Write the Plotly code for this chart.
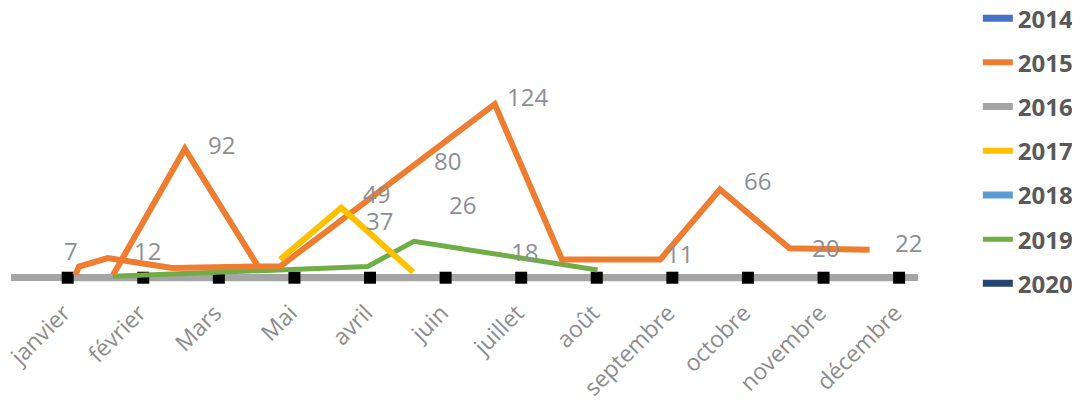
import plotly.graph_objects as go

# ---- data ----
months = ["janvier", "février", "Mars", "Mai", "avril", "juin", "juillet",
          "août", "septembre", "octobre", "novembre", "décembre"]
month_pos = list(range(len(months)))

years = ["2014", "2015", "2016", "2017", "2018", "2019", "2020"]
colors = {"2014": "#4472C4", "2015": "#ED7D31", "2016": "#A5A5A5", "2017": "#FFC000",
          "2018": "#5B9BD5", "2019": "#70AD47", "2020": "#264478"}

# 2015 (two drawn runs, separated by a gap)
x_2015 = [0.10, 0.15, 0.53, 1.38, 2.54, 2.81, 5.65, 6.54, 7.84, 8.63, 9.55, 10.61,
          None, 0.60, 1.55, 2.52]
y_2015 = [2, 8, 14, 7, 8, 8, 124, 13, 13, 63, 21, 20,
          None, 2, 92, 8]
# 2016 (flat at zero)
y_2016 = [0] * 12
# 2017
x_2017 = [2.81, 3.62, 4.57]
y_2017 = [13, 50, 4]
# 2019
x_2019 = [0.60, 3.97, 4.58, 7.01]
y_2019 = [1, 8, 26, 5.5]

# data labels
label_text = ["7", "12", "92", "49", "37", "80", "26", "124", "18", "11", "66", "20", "22"]
label_x = [0.04, 1.06, 2.04, 4.08, 4.12, 5.02, 5.22, 6.09, 6.05, 8.09, 9.13, 10.03, 11.12]
label_y = [19.8, 19.1, 95.5, 60.5, 41.2, 84, 52, 129.8, 18.4, 17.6, 69.8, 21.9, 25.5]

fig = go.Figure()

# markers on the baseline
fig.add_trace(go.Scatter(x=month_pos, y=y_2016, mode="lines+markers",
                         line=dict(color=colors["2016"], width=7),
                         marker=dict(symbol="square", size=12, color="black"),
                         name="2016", legendrank=3, legendgroup="2016", showlegend=False,
                         hoverinfo="skip"))
fig.add_trace(go.Scatter(x=[None], y=[None], mode="lines", name="2016",
                         line=dict(color=colors["2016"], width=7),
                         legendrank=3, legendgroup="2016"))
for yr, rank in [("2014", 1), ("2018", 5), ("2020", 7)]:
    fig.add_trace(go.Scatter(x=[None], y=[None], mode="lines", name=yr,
                             line=dict(color=colors[yr], width=7),
                             legendrank=rank, legendgroup=yr))
fig.add_trace(go.Scatter(x=x_2019, y=y_2019, mode="lines", name="2019",
                         line=dict(color=colors["2019"], width=5),
                         legendrank=6, legendgroup="2019"))
fig.add_trace(go.Scatter(x=x_2015, y=y_2015, mode="lines", name="2015",
                         line=dict(color=colors["2015"], width=6),
                         legendrank=2, legendgroup="2015", connectgaps=False))
fig.add_trace(go.Scatter(x=x_2017, y=y_2017, mode="lines", name="2017",
                         line=dict(color=colors["2017"], width=6),
                         legendrank=4, legendgroup="2017"))

for t, lx, ly in zip(label_text, label_x, label_y):
    fig.add_annotation(x=lx, y=ly, text=t, showarrow=False, xanchor="center", yanchor="middle",
                       font=dict(family="Open Sans", size=24, color="#8C8F96"))

fig.update_layout(
    width=1080, height=401,
    margin=dict(l=3, r=170, t=12, b=117, autoexpand=False),
    paper_bgcolor="white", plot_bgcolor="white",
    showlegend=True,
    legend=dict(xref="container", yref="paper", x=0.898, y=1.088, xanchor="left", yanchor="top",
                font=dict(family="Open Sans", size=24, color="#595959", weight="bold"),
                traceorder="grouped", tracegroupgap=10, maxheight=1.0,
                bgcolor="rgba(0,0,0,0)"),
    xaxis=dict(range=[-0.75, 11.25], tickmode="array", tickvals=month_pos, ticktext=months,
               tickangle=-45, showgrid=False, zeroline=False, showline=False, ticks="",
               automargin=False, ticklabelshift=-4, ticklabelstandoff=2,
               ticklabeloverflow="allow",
               tickfont=dict(family="Open Sans", size=23, color="#8C8C8C")),
    yaxis=dict(range=[-10.2, 184.1], showgrid=False, zeroline=True, zerolinecolor="#A5A5A5",
               zerolinewidth=7, showticklabels=False, showline=False, ticks="", automargin=False),
)

fig.write_html("out.html")
